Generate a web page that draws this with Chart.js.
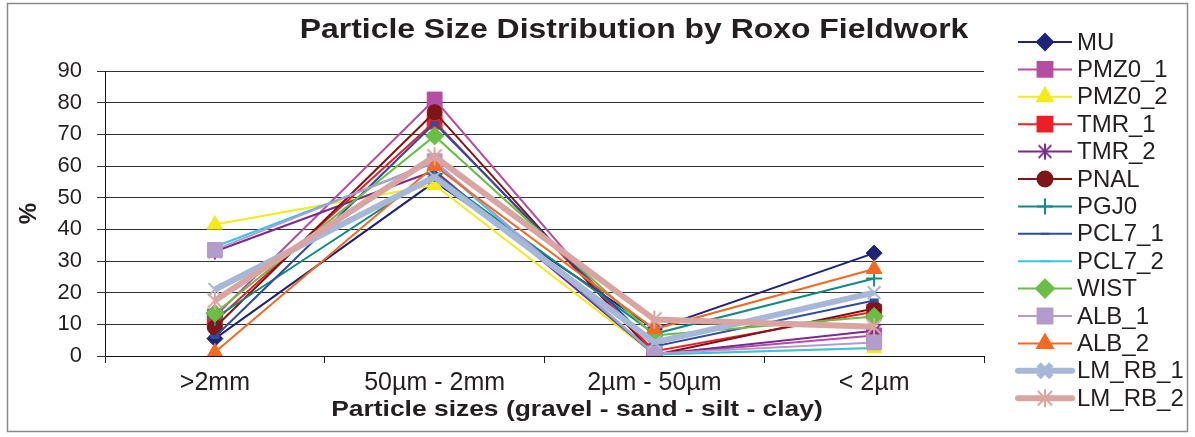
<!DOCTYPE html>
<html>
<head>
<meta charset="utf-8">
<script src="https://cdn.jsdelivr.net/npm/chart.js@4/dist/chart.umd.min.js"></script>
<style>
  html, body { margin: 0; padding: 0; background: #fff; }
  #wrap { width: 1195px; height: 437px; }
</style>
</head>
<body>
<div id="wrap"><canvas id="c" width="1195" height="437"></canvas></div>
<script>
// Particle size classes (gravel, sand, silt, clay)
const categories = [">2mm", "50µm - 2mm", "2µm - 50µm", "< 2µm"];

// Percentage of each size class per sample
const MU      = [5.5, 55, 8.5, 32.5];
const PMZ0_1  = [12.5, 81, 0.5, 6.5];
const PMZ0_2  = [41.5, 54, 0.5, 2.5];
const TMR_1   = [11, 74, 1.5, 14];
const TMR_2   = [33, 58.5, 0.5, 8];
const PNAL    = [9, 77, 0.3, 15];
const PGJ0    = [12, 57.5, 7, 24.5];
const PCL7_1  = [6, 73.5, 3, 17.5];
const PCL7_2  = [34.5, 61, 0.5, 2.5];
const WIST    = [13.5, 69.5, 6.5, 12.5];
const ALB_1   = [33.5, 61.5, 0.8, 4.3];
const ALB_2   = [1.2, 60, 8.5, 27.5];
const LM_RB_1 = [21, 56.5, 4.3, 20];
const LM_RB_2 = [17.5, 63, 11.5, 9.2];

const yTicks = [0, 10, 20, 30, 40, 50, 60, 70, 80, 90];

const FONT = '"Liberation Sans", Arial, Helvetica, sans-serif';
const TEXT = '#231F20';

// six-spoke asterisk marker (vertical bar plus an X)
function asterisk(color, r, w) {
  const s = Math.ceil(2 * r + w + 2);
  const c = document.createElement('canvas');
  c.width = s; c.height = s;
  const g = c.getContext('2d');
  const m = s / 2;
  g.strokeStyle = color;
  g.lineWidth = w;
  g.beginPath();
  g.moveTo(m, m - r); g.lineTo(m, m + r);
  const d = r * 0.8;
  g.moveTo(m - d, m - d); g.lineTo(m + d, m + d);
  g.moveTo(m - d, m + d); g.lineTo(m + d, m - d);
  g.stroke();
  return c;
}

function series(label, data, color, style, radius, width) {
  const stroked = (style === 'cross' || style === 'crossRot');
  return {
    label, data,
    borderColor: color,
    backgroundColor: color,
    pointBackgroundColor: color,
    pointBorderColor: color,
    borderWidth: width || 2,
    pointStyle: style,
    pointRadius: radius,
    pointBorderWidth: stroked ? 2 : (style === 'line' ? 4 : 1),
    tension: 0,
    fill: false
  };
}

const datasets = [
  series('MU',      MU,      '#1F2378', 'rectRot', 8),
  series('PMZ0_1',  PMZ0_1,  '#B54EA3', 'rect', 10.5),
  series('PMZ0_2',  PMZ0_2,  '#F4EA1B', 'triangle', 9),
  series('TMR_1',   TMR_1,   '#EC1F26', 'rect', 10.5),
  series('TMR_2',   TMR_2,   '#7A2A88', asterisk('#7A2A88', 8, 2), 8),
  series('PNAL',    PNAL,    '#7E1518', 'circle', 7.5),
  series('PGJ0',    PGJ0,    '#128A86', 'cross', 8),
  series('PCL7_1',  PCL7_1,  '#2F4DA0', 'line', 4.5),
  series('PCL7_2',  PCL7_2,  '#35C4F0', 'line', 4.5),
  series('WIST',    WIST,    '#6ABD45', 'rectRot', 9),
  series('ALB_1',   ALB_1,   '#B29CCC', 'rect', 10.5),
  series('ALB_2',   ALB_2,   '#F26A22', 'triangle', 9),
  series('LM_RB_1', LM_RB_1, '#A6B7D8', 'crossRot', 9, 6),
  series('LM_RB_2', LM_RB_2, '#D9A5A2', asterisk('#D9A5A2', 9, 2), 9, 6)
];
// later samples are painted over earlier ones
datasets.forEach((d, i) => { d.order = -i; });

// text drawn with a slight horizontal stretch
function wideText(ctx, text, x, y, font, sx) {
  ctx.save();
  ctx.font = font;
  ctx.translate(x, y);
  ctx.scale(sx, 1);
  ctx.fillText(text, 0, 0);
  ctx.restore();
}

// Frame, headings and the line-and-marker legend
const decorations = {
  id: 'decorations',
  afterDraw(chart) {
    const ctx = chart.ctx;
    const area = chart.chartArea;
    ctx.save();

    // outer frame
    ctx.strokeStyle = '#8a8a8a';
    ctx.lineWidth = 1.5;
    ctx.strokeRect(7.5, 3.5, 1180, 428);

    // chart heading
    ctx.fillStyle = TEXT;
    ctx.textAlign = 'center';
    ctx.textBaseline = 'middle';
    wideText(ctx, 'Particle Size Distribution by Roxo Fieldwork', 634, 30,
      'bold 28px ' + FONT, 1.14);

    // category axis heading
    wideText(ctx, 'Particle sizes (gravel - sand - silt - clay)', area.left + 472, 410,
      'bold 22px ' + FONT, 1.2);

    // legend
    const x0 = 1018, x1 = 1072, tx = 1077;
    const top = 42, step = 27.4;
    chart.data.datasets.forEach((ds, i) => {
      const y = top + i * step;
      ctx.strokeStyle = ds.borderColor;
      ctx.lineWidth = ds.borderWidth;
      ctx.lineCap = ds.borderWidth > 3 ? 'round' : 'butt';
      ctx.beginPath();
      ctx.moveTo(x0, y);
      ctx.lineTo(x1, y);
      ctx.stroke();
      ctx.lineCap = 'butt';
      ctx.fillStyle = ds.pointBackgroundColor;
      ctx.strokeStyle = ds.pointBorderColor;
      Chart.helpers.drawPoint(ctx, {
        pointStyle: ds.pointStyle,
        radius: ds.pointRadius,
        borderWidth: ds.pointBorderWidth,
        rotation: 0
      }, (x0 + x1) / 2, y);
      ctx.fillStyle = TEXT;
      ctx.textAlign = 'left';
      ctx.textBaseline = 'middle';
      ctx.font = '24px ' + FONT;
      ctx.fillText(ds.label, tx, y + 1);
    });
    ctx.restore();
  }
};

new Chart(document.getElementById('c'), {
  type: 'line',
  data: { labels: categories, datasets },
  plugins: [decorations],
  options: {
    responsive: false,
    animation: false,
    devicePixelRatio: 1,
    layout: { padding: { left: 10, right: 211, top: 71, bottom: 0 } },
    plugins: {
      legend: { display: false },
      title: { display: false },
      tooltip: { enabled: false }
    },
    scales: {
      x: {
        type: 'category',
        offset: true,
        afterFit(scale) { scale.height = 81; },
        grid: {
          offset: true,
          drawOnChartArea: false,
          drawTicks: true,
          tickLength: 7,
          color: '#222',
          lineWidth: 1
        },
        border: { display: true, color: '#111', width: 1 },
        ticks: {
          color: TEXT,
          font: { family: FONT, size: 25 },
          padding: 5,
          autoSkip: false,
          maxRotation: 0
        }
      },
      y: {
        min: 0,
        max: 90,
        afterFit(scale) { scale.width = 95; },
        afterBuildTicks(scale) { scale.ticks = yTicks.map(v => ({ value: v })); },
        grid: {
          color: '#333',
          lineWidth: 1,
          tickLength: 8,
          drawTicks: true
        },
        border: { display: true, color: '#111', width: 1 },
        ticks: {
          color: TEXT,
          font: { family: FONT, size: 22 },
          padding: 15
        },
        title: {
          display: true,
          text: '%',
          color: TEXT,
          font: { family: FONT, size: 24, weight: 'bold' },
          padding: { top: 5, bottom: 0 }
        }
      }
    }
  }
});
</script>
</body>
</html>
